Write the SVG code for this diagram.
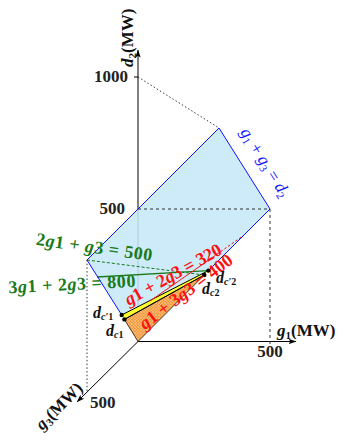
<svg xmlns="http://www.w3.org/2000/svg" width="342" height="441" viewBox="0 0 342 441">
<style>
text{font-family:"Liberation Serif","DejaVu Serif",serif;font-weight:bold}
.i{font-style:italic}
.num{font-size:17px;fill:#222}
.grn{fill:#1a7a1a;font-size:18px}
.red{fill:#ff1010;font-size:18px}
.blu{fill:#1010ff;font-size:17px;font-weight:normal}
.lbl{font-size:16px;fill:#111}
.axis{stroke:#000;stroke-width:1;fill:none}
.guide{stroke:#333;stroke-width:1;stroke-dasharray:3 3;fill:none}
.dot{stroke:#222;stroke-width:0.9;stroke-dasharray:1.5 2.2;fill:none}
.edge{stroke:#1010ff;stroke-width:1;fill:none}
.blk{stroke:#000;stroke-width:1;fill:none}
</style>
<defs>
<marker id="arr" viewBox="0 0 8 6" refX="7.5" refY="3" markerWidth="8" markerHeight="6" markerUnits="userSpaceOnUse" orient="auto">
<path d="M0,0.3 L8,3 L0,5.7 L1.8,3 z" fill="#000"/>
</marker>
<pattern id="hatch" width="3" height="3" patternUnits="userSpaceOnUse">
<rect width="3" height="3" fill="#f29a3c"/>
<path d="M0,0 L3,3 M3,0 L0,3" stroke="#f9c48c" stroke-width="0.6"/>
</pattern>
</defs>

<g id="axes">
<line class="axis" x1="138" y1="341.5" x2="138" y2="50" marker-end="url(#arr)"/>
<line class="axis" x1="138" y1="341.5" x2="296" y2="341.5" marker-end="url(#arr)"/>
<line class="axis" x1="138" y1="341.5" x2="77" y2="402" marker-end="url(#arr)"/>
<line class="axis" x1="134" y1="77" x2="138" y2="77"/>
</g>

<g id="guides-back">
<line class="dot" x1="138" y1="77" x2="219" y2="128"/>
<line class="guide" x1="270" y1="209" x2="270" y2="345"/>
<line class="dot" x1="87" y1="260" x2="87" y2="393"/>
</g>

<g id="plane">
<polygon points="87,260 121.7,315 208.4,270.6 270,209 219,128" fill="#c6e8f8" fill-opacity="0.88"/>
</g>

<g id="guides-front">
<line class="guide" x1="138" y1="209" x2="270" y2="209"/>
</g>

<g id="regions">
<polygon id="yellow-strip" points="121.7,315 208.4,270.6 204.3,275 124.4,319.4" fill="#ffff30"/>
<polygon id="orange-region" points="124.4,319.4 204.3,275 138,341.5" fill="url(#hatch)" stroke="#111" stroke-width="0.8"/>
</g>

<g id="connectors">
<line class="blk" x1="121.7" y1="315" x2="208.4" y2="270.6"/>
<line class="blk" x1="124.4" y1="319.4" x2="204.3" y2="275"/>
<line x1="97" y1="277" x2="208.4" y2="270.6" stroke="#1a7a1a" stroke-width="1.3"/>
<line x1="87" y1="260" x2="204.3" y2="275" stroke="#1a7a1a" stroke-width="1" stroke-dasharray="3 2"/>
<line x1="150" y1="301" x2="206" y2="262" stroke="#ff1010" stroke-width="1"/>
<line x1="206" y1="262" x2="243.6" y2="235.4" stroke="#ff1010" stroke-width="1" stroke-dasharray="2.5 2"/>
<polyline class="edge" points="121.7,315 87,260 219,128 270,209 208.4,270.6"/>
</g>

<g id="points">
<circle cx="121.7" cy="315" r="2.2" fill="#000"/>
<circle cx="124.4" cy="319.4" r="2.2" fill="#000"/>
<circle cx="208.4" cy="270.6" r="2.2" fill="#000"/>
<circle cx="204.3" cy="275" r="2.2" fill="#000"/>
</g>

<g id="axis-labels">
<text class="lbl" style="font-size:17px" transform="translate(133,67) rotate(-90)"><tspan class="i">d</tspan><tspan font-size="11" dy="3">2</tspan><tspan dy="-3">(MW)</tspan></text>
<text class="lbl" style="font-size:17px" x="277" y="336"><tspan class="i">g</tspan><tspan font-size="11" dy="3">1</tspan><tspan dy="-3">(MW)</tspan></text>
<text class="lbl" style="font-size:17px" text-anchor="middle" transform="translate(63,410) rotate(-45)"><tspan class="i">g</tspan><tspan font-size="11" dy="3">3</tspan><tspan dy="-3">(MW)</tspan></text>
<text class="num" x="128" y="82" text-anchor="end">1000</text>
<text class="num" x="125" y="214" text-anchor="end">500</text>
<text class="num" x="270" y="357" text-anchor="middle">500</text>
<text class="num" x="90" y="408">500</text>
</g>

<g id="constraint-labels">
<text class="blu" text-anchor="middle" transform="translate(264,163) rotate(58)" y="4"><tspan class="i">g</tspan><tspan font-size="11" dy="3">1</tspan><tspan dy="-3"> + </tspan><tspan class="i">g</tspan><tspan font-size="11" dy="3">3</tspan><tspan dy="-3"> = </tspan><tspan class="i">d</tspan><tspan font-size="11" dy="3">2</tspan></text>
<text class="grn" text-anchor="middle" textLength="117" transform="translate(94,249) rotate(8)" y="4">2<tspan class="i">g</tspan>1 + <tspan class="i">g</tspan>3 = 500</text>
<text class="grn" text-anchor="middle" textLength="127" transform="translate(72,286) rotate(-3)" y="4">3<tspan class="i">g</tspan>1 + 2<tspan class="i">g</tspan>3 = 800</text>
<text class="red" text-anchor="middle" textLength="108" transform="translate(174,276) rotate(-29)" y="4"><tspan class="i">g</tspan>1 + 2<tspan class="i">g</tspan>3 = 320</text>
<text class="red" text-anchor="middle" textLength="112" transform="translate(187,293) rotate(-37)" y="4"><tspan class="i">g</tspan>1 + 3<tspan class="i">g</tspan>3 = 400</text>
</g>

<g id="point-labels">
<text class="lbl" x="93" y="318"><tspan class="i">d</tspan><tspan font-size="10" dy="1.5" class="i">c′</tspan><tspan font-size="10">1</tspan></text>
<text class="lbl" x="106" y="336"><tspan class="i">d</tspan><tspan font-size="10" dy="2" class="i">c</tspan><tspan font-size="10">1</tspan></text>
<text class="lbl" x="216" y="283"><tspan class="i">d</tspan><tspan font-size="10" dy="1.5" class="i">c′</tspan><tspan font-size="10">2</tspan></text>
<text class="lbl" x="202" y="294"><tspan class="i">d</tspan><tspan font-size="10" dy="2" class="i">c</tspan><tspan font-size="10">2</tspan></text>
</g>
</svg>
